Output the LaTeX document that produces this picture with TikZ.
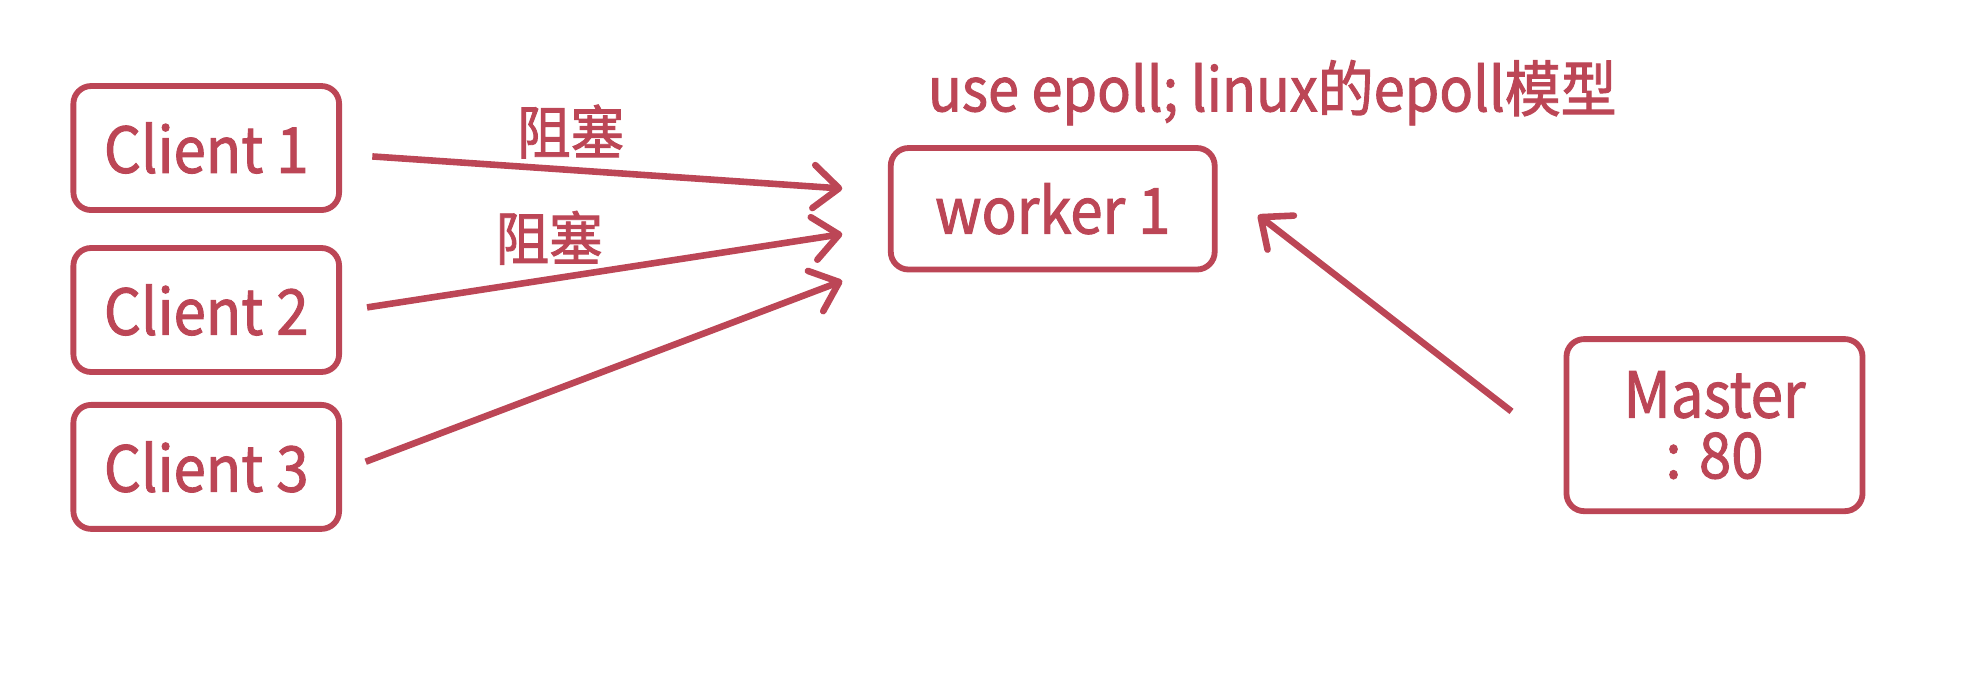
\documentclass[tikz,border=0pt]{standalone}
\usepackage{fontspec}
\setmainfont{Noto Sans CJK SC}[FakeStretch=0.92, FakeBold=1.5]
\usetikzlibrary{arrows.meta,calc}
\definecolor{epred}{RGB}{188,70,86}
\tikzset{
  box/.style={draw=epred, line width=2.3pt, rounded corners=7pt, text=epred, align=center, inner sep=0pt},
  flow/.style={draw=epred, line width=2.6pt, -{Straight Barb[length=10pt,width=17pt,line width=2.6pt,round]}},
  lbl/.style={text=epred, inner sep=0pt},
}
\begin{document}
\begin{tikzpicture}[x=0.5pt,y=-0.5pt]
\useasboundingbox (0,0) rectangle (1568,534);
    \begin{scope}[font=\fontsize{25}{24}\selectfont]
\node[box, minimum width=105pt, minimum height=49pt] (c1) at (163,117) {Client 1};
\node[box, minimum width=105pt, minimum height=49pt] (c2) at (163,245) {Client 2};
\node[box, minimum width=105pt, minimum height=49pt] (c3) at (163,369) {Client 3};

\node[box, minimum width=128pt, minimum height=48pt] (worker) at (832,165) {worker 1};
\node[box, minimum width=117pt, minimum height=68pt] (master) at (1355,336) {Master\\ : 80};

\node[lbl, anchor=base west, font=\fontsize{24}{24}\selectfont] (epoll) at (733,88) {use epoll; linux的epoll模型};
\node[lbl, font=\fontsize{23}{23}\selectfont] (b1) at (451,104) {阻塞};
\node[lbl, font=\fontsize{23}{23}\selectfont] (b2) at (434,188) {阻塞};

% where the arrows stop, left of worker 1
\coordinate (w1) at ($(worker.west)+(-36,-16)$);
\coordinate (w2) at ($(worker.west)+(-36,20)$);
\coordinate (w3) at ($(worker.west)+(-36,57)$);
\coordinate (w4) at ($(worker.east)+(32,5)$);

\draw[flow, shorten <=12pt] ($(c1.east)+(0,5)$) -- (w1);
\draw[flow, shorten <=10pt] ($(c2.east)+(0,1)$) -- (w2);
\draw[flow, shorten <=10pt] ($(c3.east)+(0,3)$) -- (w3);
\draw[flow, shorten <=26pt] ($(master.west)+(0,21)$) -- (w4);
    \end{scope}
\end{tikzpicture}
\end{document}
